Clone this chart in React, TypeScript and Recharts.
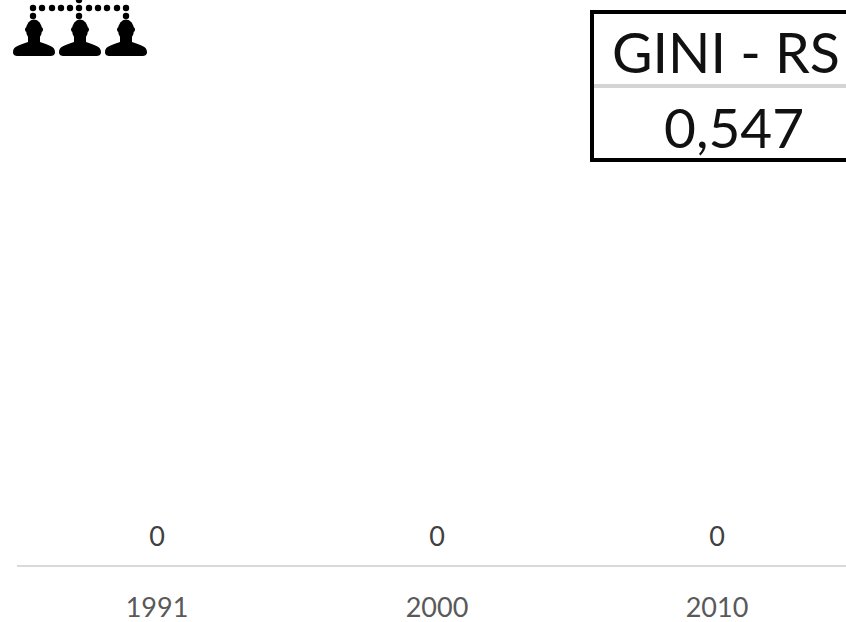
import React from "react";
import { Bar, ComposedChart, LabelList, Line, XAxis, YAxis } from "recharts";

const years = ["1991", "2000", "2010"];
const values = [0, 0, 0];
const giniLabel = "GINI - RS";
const giniValue = "0,547";

const chartData = years.map((year, i) => ({ year, value: values[i] }));
const FONT = "Lato, sans-serif";

// one person glyph, bust with shoulders
function Person({ x }: { x: number }) {
  return (
    <g transform={`translate(${x},0)`} fill="#000">
      <ellipse cx={0} cy={30} rx={8} ry={10.5} />
      <rect x={-9} y={27} width={18} height={5} rx={2.5} />
      <rect x={-6} y={36} width={12} height={10} />
      <path d="M-21,52 C-21,46 -14,45 -6,42 L6,42 C14,45 21,46 21,52 C21,55 19,56 16,56 L-16,56 C-19,56 -21,55 -21,52 Z" />
    </g>
  );
}

function TeamIcon() {
  const dots = [33, 42, 52, 61, 70, 79, 89, 98, 107, 117, 126];
  return (
    <svg width={170} height={70} style={{ position: "absolute", left: 0, top: 0 }}>
      {dots.map((x) => (
        <circle key={x} cx={x} cy={8} r={3.2} fill="#000" />
      ))}
      <circle cx={79} cy={0} r={3.2} fill="#000" />
      <circle cx={33} cy={16} r={3.2} fill="#000" />
      <circle cx={79} cy={16} r={3.2} fill="#000" />
      <circle cx={126} cy={16} r={3.2} fill="#000" />
      <Person x={34} />
      <Person x={80} />
      <Person x={126} />
    </svg>
  );
}

function GiniBox() {
  return (
    <div
      style={{
        position: "absolute",
        left: 590,
        top: 10,
        width: 270,
        height: 144,
        border: "4px solid #000",
        fontFamily: FONT,
        color: "#111",
      }}
    >
      <div
        style={{
          position: "absolute",
          left: 18,
          top: 8,
          fontSize: 55.5,
          lineHeight: "60px",
          whiteSpace: "nowrap",
        }}
      >
        {giniLabel}
      </div>
      <div
        style={{
          position: "absolute",
          left: 0,
          top: 70,
          width: "100%",
          height: 4,
          background: "#d4d4d4",
        }}
      />
      <div
        style={{
          position: "absolute",
          left: 70,
          top: 83,
          fontSize: 55,
          lineHeight: "60px",
          whiteSpace: "nowrap",
        }}
      >
        {giniValue}
      </div>
    </div>
  );
}

export default function App() {
  return (
    <div
      style={{
        position: "absolute",
        left: 0,
        top: 0,
        width: 846,
        height: 622,
        overflow: "hidden",
        background: "#fff",
      }}
    >
      <ComposedChart
        width={857}
        height={622}
        data={chartData}
        margin={{ top: 170, right: 0, bottom: 0, left: 17 }}
      >
        <XAxis
          dataKey="year"
          height={56}
          axisLine={{ stroke: "#d9d9d9", strokeWidth: 2 }}
          tickLine={false}
          tick={{ fill: "#595959", fontSize: 27, fontFamily: FONT }}
          tickMargin={26}
        />
        <YAxis hide domain={[0, 1]} />
        <Bar dataKey="value" fill="#4472c4" isAnimationActive={false} />
        {/* zero bars drop their labels, so the labels ride on an invisible line */}
        <Line dataKey="value" stroke="none" dot={false} isAnimationActive={false}>
          <LabelList
            dataKey="value"
            position="top"
            offset={20}
            fill="#404040"
            fontSize={27}
            fontFamily={FONT}
          />
        </Line>
      </ComposedChart>
      <TeamIcon />
      <GiniBox />
    </div>
  );
}
